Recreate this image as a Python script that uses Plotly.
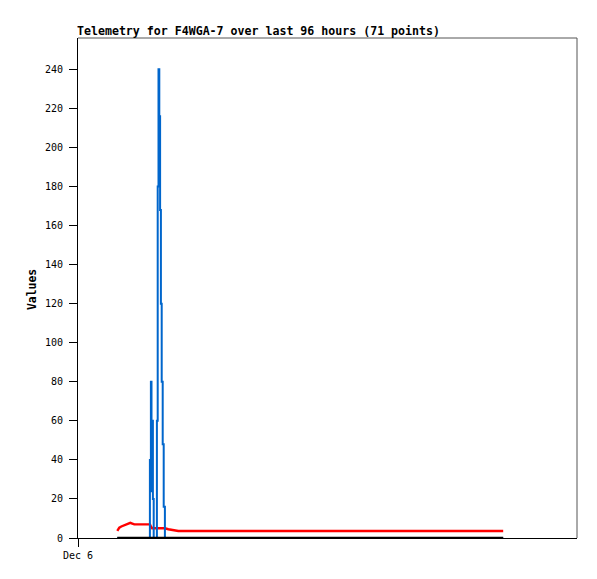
import plotly.graph_objects as go

# czasy pomiarów (71 punktów)
times = [
    "2023-12-06 01:53:25", "2023-12-06 01:59:11", "2023-12-06 02:04:58", "2023-12-06 02:13:37",
    "2023-12-06 02:22:16", "2023-12-06 02:30:56", "2023-12-06 02:36:42", "2023-12-06 02:42:28",
    "2023-12-06 02:54:01", "2023-12-06 03:05:33", "2023-12-06 03:17:06",
    "2023-12-06 03:25:11", "2023-12-06 03:27:29", "2023-12-06 03:30:22", "2023-12-06 03:32:07",
    "2023-12-06 03:33:50", "2023-12-06 03:36:09", "2023-12-06 03:38:28",
    "2023-12-06 03:45:58", "2023-12-06 03:47:41", "2023-12-06 03:50:00", "2023-12-06 03:52:19",
    "2023-12-06 03:54:37", "2023-12-06 03:56:55", "2023-12-06 03:59:14", "2023-12-06 04:01:32",
    "2023-12-06 04:04:26", "2023-12-06 04:07:19", "2023-12-06 04:10:47",
    "2023-12-06 04:20:35", "2023-12-06 04:32:08", "2023-12-06 04:49:27",
    "2023-12-06 05:15", "2023-12-06 05:39", "2023-12-06 06:03", "2023-12-06 06:27",
    "2023-12-06 06:51", "2023-12-06 07:15", "2023-12-06 07:39", "2023-12-06 08:03",
    "2023-12-06 08:27", "2023-12-06 08:51", "2023-12-06 09:15", "2023-12-06 09:39",
    "2023-12-06 10:03", "2023-12-06 10:27", "2023-12-06 10:51", "2023-12-06 11:15",
    "2023-12-06 11:39", "2023-12-06 12:03", "2023-12-06 12:27", "2023-12-06 12:51",
    "2023-12-06 13:15", "2023-12-06 13:39", "2023-12-06 14:03", "2023-12-06 14:27",
    "2023-12-06 14:51", "2023-12-06 15:15", "2023-12-06 15:39", "2023-12-06 16:03",
    "2023-12-06 16:27", "2023-12-06 16:51", "2023-12-06 17:15", "2023-12-06 17:39",
    "2023-12-06 18:03", "2023-12-06 18:27", "2023-12-06 18:51", "2023-12-06 19:15",
    "2023-12-06 19:39", "2023-12-06 20:03", "2023-12-06 20:27",
]

# kanał czerwony
red_vals = [
    3.6, 5.3, 5.9, 6.4, 7.0, 7.8, 7.4, 7.0, 7.0, 7.0, 7.0,
    7.0, 7.0, 6.0, 5.0, 5.0, 5.0, 5.0,
    5.0, 5.0, 5.0, 5.0, 5.0, 5.0, 5.0, 5.0, 5.0, 5.0, 5.0,
    4.5, 4.0, 3.6,
    3.6, 3.6, 3.6, 3.6, 3.6, 3.6, 3.6, 3.6, 3.6, 3.6,
    3.6, 3.6, 3.6, 3.6, 3.6, 3.6, 3.6, 3.6, 3.6, 3.6,
    3.6, 3.6, 3.6, 3.6, 3.6, 3.6, 3.6, 3.6, 3.6, 3.6,
    3.6, 3.6, 3.6, 3.6, 3.6, 3.6, 3.6, 3.6, 3.6,
]

# kanał niebieski z dwoma skokami
blue_vals = [
    0, 0, 0, 0, 0, 0, 0, 0, 0, 0, 0,
    0, 40, 80, 24, 60, 20, 0,
    0, 60, 180, 240, 216, 168, 120, 80, 48, 16, 0,
    0, 0, 0,
    0, 0, 0, 0, 0, 0, 0, 0, 0, 0,
    0, 0, 0, 0, 0, 0, 0, 0, 0, 0,
    0, 0, 0, 0, 0, 0, 0, 0, 0, 0,
    0, 0, 0, 0, 0, 0, 0, 0, 0,
]

# kanał czarny - stałe zero
black_vals = [
    0, 0, 0, 0, 0, 0, 0, 0, 0, 0, 0,
    0, 0, 0, 0, 0, 0, 0,
    0, 0, 0, 0, 0, 0, 0, 0, 0, 0, 0,
    0, 0, 0,
    0, 0, 0, 0, 0, 0, 0, 0, 0, 0,
    0, 0, 0, 0, 0, 0, 0, 0, 0, 0,
    0, 0, 0, 0, 0, 0, 0, 0, 0, 0,
    0, 0, 0, 0, 0, 0, 0, 0, 0,
]

y_ticks = [0, 20, 40, 60, 80, 100, 120, 140, 160, 180, 200, 220, 240]
x_tick = ["2023-12-06 00:00"]
x_tick_text = ["Dec 6"]

MONO = "DejaVu Sans Mono"

# strona html ma 8 px marginesu body, więc figura jest o 8 px mniejsza
W, H = 589, 571

fig = go.Figure()
fig.add_trace(go.Scatter(x=times, y=red_vals, mode="lines",
                         line=dict(color="#ff0000", width=2.4)))
fig.add_trace(go.Scatter(x=times, y=blue_vals, mode="lines",
                         line=dict(color="#0066cc", width=2, shape="hv")))
fig.add_trace(go.Scatter(x=times, y=black_vals, mode="lines",
                         line=dict(color="#000000", width=2.4)))

fig.update_layout(
    width=W,
    height=H,
    showlegend=False,
    plot_bgcolor="white",
    paper_bgcolor="white",
    margin=dict(l=70, r=20, t=30, b=41, autoexpand=False),
    font=dict(family=MONO, size=10, color="black"),
    title=dict(
        text="<b>Telemetry for F4WGA-7 over last 96 hours (71 points)</b>",
        font=dict(family=MONO, size=11.6, color="black"),
        x=69 / W, xanchor="left", xref="container",
        y=1 - 23 / H, yanchor="middle", yref="container",
    ),
    shapes=[
        dict(type="line", xref="paper", yref="paper", x0=0, x1=1, y0=1, y1=1,
             line=dict(color="#555555", width=1)),
        dict(type="line", xref="paper", yref="paper", x0=1, x1=1, y0=0, y1=1,
             line=dict(color="#555555", width=1)),
    ],
    annotations=[
        dict(text="<b>Values</b>", textangle=-90, xref="paper", yref="paper",
             x=(24 - 70) / 499, y=0.496, xanchor="center", yanchor="middle",
             showarrow=False, font=dict(family=MONO, size=11.4, color="black")),
    ],
)

fig.update_xaxes(
    type="date",
    range=["2023-12-06 00:00", "2023-12-07 00:00"],
    tickvals=x_tick, ticktext=x_tick_text,
    showgrid=False, zeroline=False,
    showline=True, linecolor="black", linewidth=1,
    ticks="outside", ticklen=8, tickcolor="black",
)
fig.update_yaxes(
    range=[0, 256],
    tickvals=y_ticks,
    showgrid=False, zeroline=False,
    showline=True, linecolor="black", linewidth=1,
    ticks="outside", ticklen=8, tickcolor="black",
    ticklabelstandoff=4,
)

fig.write_html("out.html")
